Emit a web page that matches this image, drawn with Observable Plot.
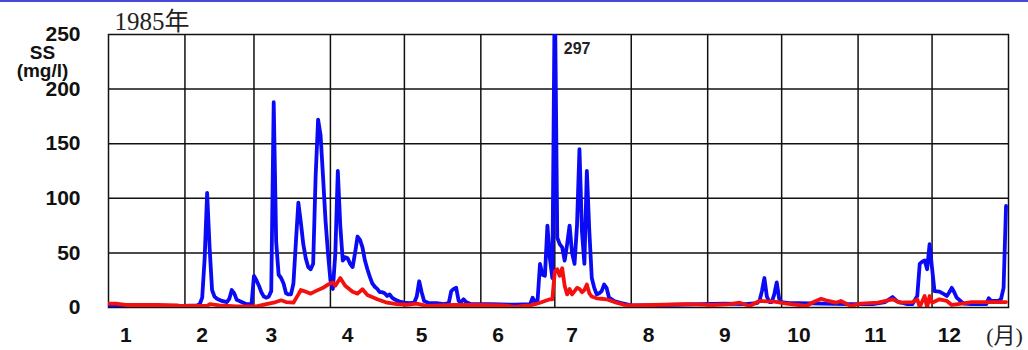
<!DOCTYPE html>
<html>
<head>
<meta charset="utf-8">
<script src="https://cdn.jsdelivr.net/npm/d3@7"></script>
<script src="https://cdn.jsdelivr.net/npm/@observablehq/plot@0.6"></script>
<style>
  html, body { margin: 0; padding: 0; background: #fff; }
  #wrap { position: relative; width: 1028px; height: 350px; }
  #topline { position: absolute; left: 0; top: 0; width: 1028px; height: 2px; background: #4848d8; }
</style>
</head>
<body>
<div id="wrap"><div id="topline"></div><div id="chart"></div></div>
<script>
// Daily suspended solids (SS, mg/l) for 1985; days counted from 1 January (0 = Jan 1).
const yearLabel = "1985年";
const yLabel = "SS\n(mg/l)";
const yTicks = [0, 50, 100, 150, 200, 250];

// Blue series
const blueDay = [0, 10, 20, 30, 36, 37, 38, 39, 40, 41, 42, 43, 44, 46, 48, 49, 50, 51, 52, 54, 56, 58,
  59, 60, 61, 62, 63, 64, 65, 66, 67, 68, 69, 70, 71, 72, 73, 74, 75, 76, 77, 78, 79, 80, 81, 82, 83,
  84, 85, 86, 87, 88, 89, 90, 91, 92, 93, 94, 95, 96, 97, 98, 99, 100, 101, 102, 103, 104, 105, 106,
  107, 108, 109, 110, 111, 112, 113, 114, 115, 116, 117, 118, 119, 120, 122, 124, 125, 126, 127, 128,
  130, 133, 136, 138, 139, 140, 141, 142, 143, 144, 145, 147, 155, 165, 171, 172, 173, 174, 175, 176,
  177, 178, 179, 180, 181, 182, 183, 184, 185, 186, 187, 188, 189, 190, 191, 192, 193, 194, 195, 196,
  197, 198, 199, 200, 201, 202, 203, 205, 208, 212, 220, 230, 240, 250, 258, 263, 264, 265, 266, 267,
  268, 269, 270, 271, 272, 273, 276, 280, 290, 300, 310, 315, 318, 320, 324, 326, 328, 329, 330, 331,
  332, 333, 334, 335, 337, 339, 340, 341, 342, 343, 344, 346, 347, 350, 356, 357, 358, 361, 362, 363, 364];
const blueSS = [1.5, 1.5, 1, 1.5, 2, 3, 9, 45, 105, 55, 16, 10, 8, 6, 5, 8, 16, 13, 7, 5, 3, 3,
  29, 25, 20, 14, 10, 9, 10, 15, 188, 60, 30, 27, 22, 13, 12, 12, 22, 60, 96, 78, 58, 45, 37, 35, 40,
  120, 172, 158, 120, 80, 50, 25, 17, 50, 125, 75, 43, 46, 45, 40, 37, 50, 65, 62, 55, 43, 35, 28,
  22, 19, 17, 14, 14, 13, 10.5, 12, 9, 7.5, 6.5, 5.5, 5, 4.5, 4, 4.5, 10, 24, 14, 6,
  4, 4, 3, 4, 15, 17, 18, 6, 5, 7.5, 5, 3, 3, 2.5, 3, 9, 5, 6, 40, 30,
  29, 75, 45, 27, 297, 64, 58, 55, 43, 58, 75, 50, 40, 75, 145, 70, 40, 125, 70, 27,
  18, 12, 13, 15, 21, 18, 9, 6, 4, 2, 2, 2.5, 3, 3.5, 3, 4, 6, 15, 27, 10,
  5, 5, 12, 23, 8, 5, 4, 4, 3.5, 3, 3, 5, 9.6, 5.3, 3, 3, 10.5, 40, 42, 43,
  35, 58, 36, 15, 14.5, 12, 10.5, 14, 18, 14, 9, 5, 3.5, 3, 3, 8.4, 6, 6, 8, 18, 93];

// Red series
const redDay = [0, 3, 7, 20, 28, 29, 40, 41, 45, 52, 60, 64, 67, 70, 72, 75, 77, 78, 80, 82, 84, 87,
  89, 90, 91, 92, 94, 96, 99, 101, 103, 105, 109, 113, 117, 121, 125, 129, 140, 150, 160, 165, 168,
  171, 173, 175, 177, 179, 180, 181, 182, 183, 184, 185, 186, 187, 188, 189, 190, 191, 192, 193, 194,
  195, 196, 198, 200, 202, 206, 209, 212, 225, 235, 245, 252, 256, 260, 264, 270, 275, 283, 286, 289,
  291, 295, 297, 301, 305, 312, 318, 321, 326, 328, 329, 331, 332, 333, 334, 337, 340, 342, 346, 350, 364];
const redSS = [3.5, 3.5, 2.3, 2.3, 2, 1.4, 1.5, 3, 2, 1, 1, 3, 4.4, 6.6, 5, 4.4, 12, 16, 14.5, 12.7, 15, 18,
  21, 22, 23, 20, 27, 20, 14.5, 12.7, 16.7, 11.5, 7.5, 4.4, 3, 2.5, 3.5, 1.4, 2.3, 2.3, 2, 0.5, 1.5,
  2, 3, 4.4, 6, 7.5, 7.5, 33, 35, 29, 36, 20, 12, 17, 12, 15, 18, 17, 14, 16, 21,
  13, 10, 8.4, 8, 7.5, 4.4, 2.5, 2, 2.5, 3, 2.3, 3, 4.4, 1.4, 6, 5.3, 3.5, 1.4, 5, 8,
  6.6, 4.4, 6, 1.4, 3.5, 4.4, 7.5, 4.4, 5, 7.5, 0.5, 10.5, 0, 10.5, 4.4, 7.5, 6, 2.3, 3.5, 5, 5];

const dayToDate = d => new Date(Date.UTC(1985, 0, 1 + d));
const blue = blueDay.map((d, i) => ({date: dayToDate(d), value: blueSS[i]}));
const red = redDay.map((d, i) => ({date: dayToDate(d), value: redSS[i]}));
const peak = blue.reduce((a, b) => (b.value > a.value ? b : a));

const yearStart = new Date(Date.UTC(1985, 0, 1));
const yearEnd = new Date(Date.UTC(1986, 0, 1));
const monthStarts = d3.utcMonth.range(yearStart, yearEnd).slice(1);
// month numbers are set a week into each month
const monthLabelDates = d3.utcMonth.range(yearStart, yearEnd).map(m => d3.utcDay.offset(m, 7));

const chart = Plot.plot({
  width: 1028,
  height: 350,
  marginLeft: 108,
  marginRight: 20,
  marginTop: 34,
  marginBottom: 43,
  style: {fontFamily: "'Liberation Sans', Arial, sans-serif", fontSize: "21px", fontWeight: "bold", color: "#111", background: "transparent", overflow: "visible"},
  x: {type: "utc", domain: [yearStart, yearEnd], ticks: monthLabelDates, tickFormat: d => String(d.getUTCMonth() + 1), tickSize: 0, tickPadding: 20, label: null},
  y: {domain: [0, 250], ticks: yTicks, tickSize: 0, tickPadding: 28, label: null},
  marks: [
    Plot.ruleY(yTicks.slice(1, -1), {stroke: "#111", strokeWidth: 1.5}),
    Plot.ruleX(monthStarts, {stroke: "#111", strokeWidth: 1.5}),
    Plot.frame({stroke: "#111", strokeWidth: 1.5}),
    Plot.line(blue, {x: "date", y: "value", stroke: "#0a0af5", strokeWidth: 3.8, clip: true}),
    Plot.line(red, {x: "date", y: "value", stroke: "#f51010", strokeWidth: 3.8, clip: true}),
    Plot.text([peak], {x: "date", frameAnchor: "top", lineAnchor: "middle", dy: 14, dx: 9, text: d => String(d.value), textAnchor: "start", fontSize: 16, fontWeight: "bold", fill: "#222"}),
    Plot.text([yearLabel], {frameAnchor: "top-left", lineAnchor: "middle", dx: 6, dy: -13, textAnchor: "start", fontSize: 25, fontWeight: "normal", fontFamily: "'Liberation Serif', 'Noto Sans CJK JP', serif", fill: "#222"}),
    Plot.text([yLabel], {frameAnchor: "top-left", lineAnchor: "middle", lineHeight: 0.9, dx: -66, dy: 28, textAnchor: "middle", fontSize: 19, fontWeight: "bold", fill: "#111"}),
    Plot.text(["(月)"], {frameAnchor: "bottom-right", lineAnchor: "middle", dx: -4, dy: 28, textAnchor: "middle", fontSize: 22, fontWeight: "normal", fontFamily: "'Liberation Serif', 'Noto Sans CJK JP', serif", fill: "#222"})
  ]
});
document.getElementById("chart").appendChild(chart);
</script>
</body>
</html>
